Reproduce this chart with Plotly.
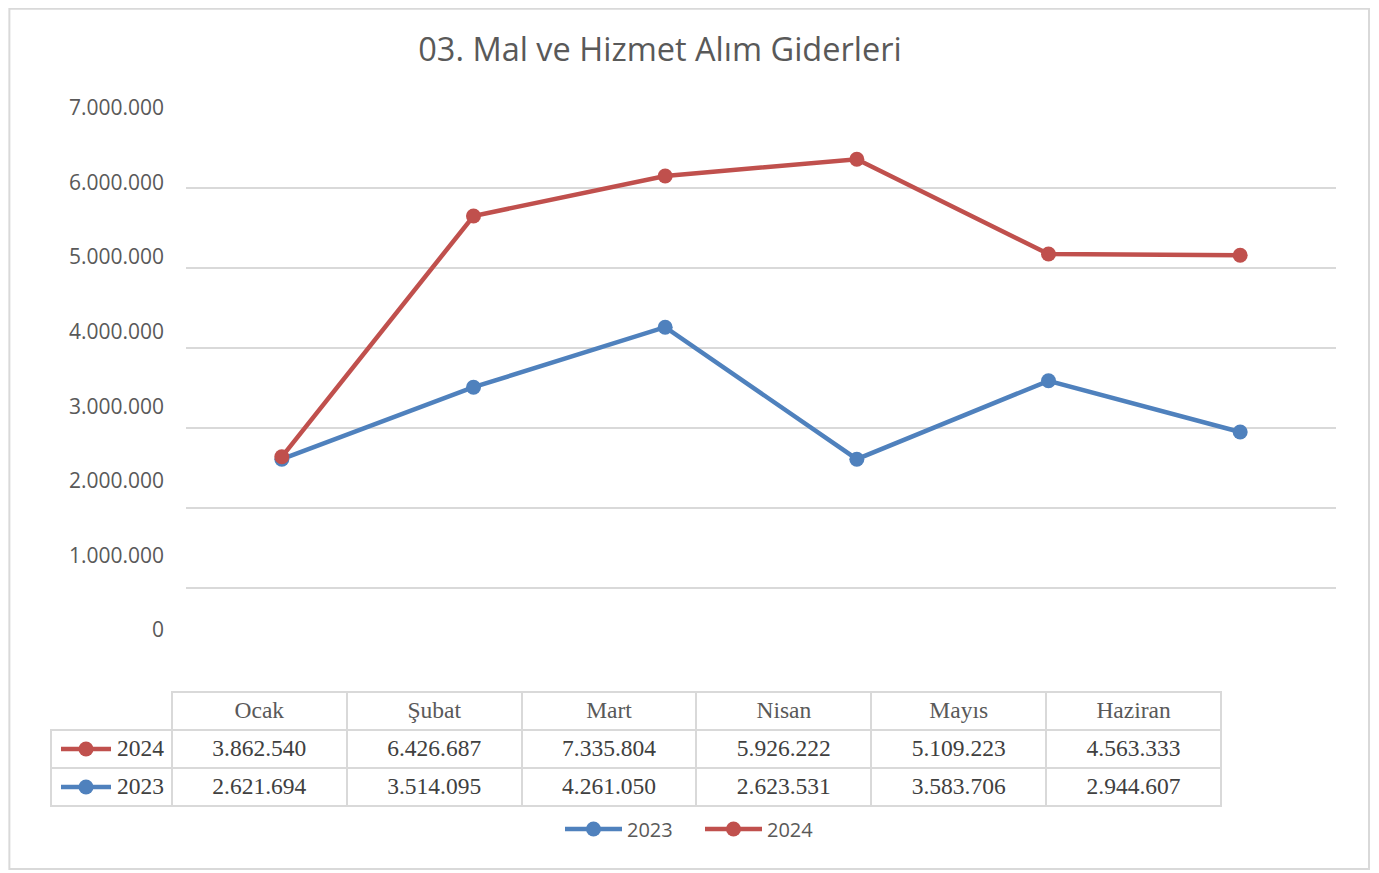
import plotly.graph_objects as go

W, H = 1379, 873
OFF = 8  # page body margin in the browser

months = ["Ocak", "Şubat", "Mart", "Nisan", "Mayıs", "Haziran"]
years = ["2023", "2024"]

# values as drawn on the chart
plot_2023 = [2610000, 3510000, 4260000, 2610000, 3590000, 2950000]
plot_2024 = [2640000, 5650000, 6150000, 6360000, 5175000, 5160000]

# values printed in the data table
table_2024 = ["3.862.540", "6.426.687", "7.335.804", "5.926.222", "5.109.223", "4.563.333"]
table_2023 = ["2.621.694", "3.514.095", "4.261.050", "2.623.531", "3.583.706", "2.944.607"]

grid_vals = [1000000, 2000000, 3000000, 4000000, 5000000, 6000000, 7000000]
label_vals = [0, 1000000, 2000000, 3000000, 4000000, 5000000, 6000000, 7000000]

BLUE = "#4F81BD"
RED = "#C0504D"
GRID = "#d9d9d9"
CLEAR = "rgba(0,0,0,0)"


def px(v):
    return (v - OFF) / W


def py(v):
    return 1 - (v - OFF) / H


fig = go.Figure()

# data table (drawn first, transparent fill so the row keys show through)
cols = [["2024", "2023"]] + [[a, b] for a, b in zip(table_2024, table_2023)]
fig.add_trace(go.Table(
    domain=dict(x=[px(51), px(1221)], y=[py(810), py(692)]),
    columnwidth=[121] + [175] * 6,
    header=dict(
        values=[""] + months,
        height=38,
        align="center",
        fill=dict(color=CLEAR),
        line=dict(color=[CLEAR] + [GRID] * 6, width=2),
        font=dict(family="Liberation Serif", size=23.5, color="#595959"),
    ),
    cells=dict(
        values=cols,
        height=38,
        align=["right"] + ["center"] * 6,
        fill=dict(color=CLEAR),
        line=dict(color=GRID, width=2),
        font=dict(family="Liberation Serif", size=23.5, color="#404040"),
    ),
))

fig.add_trace(go.Scatter(
    x=months, y=plot_2023, name="2023", mode="lines+markers",
    line=dict(color=BLUE, width=4.5), marker=dict(size=15, color=BLUE),
    hoverinfo="skip",
))
fig.add_trace(go.Scatter(
    x=months, y=plot_2024, name="2024", mode="lines+markers",
    line=dict(color=RED, width=4.5), marker=dict(size=15, color=RED),
    hoverinfo="skip",
))

# invisible trace so the label axis is drawn
fig.add_trace(go.Scatter(
    x=[months[0]], y=[0], yaxis="y2", mode="markers",
    marker=dict(opacity=0), showlegend=False, hoverinfo="skip",
))

# legend keys inside the table row headers
key_rows = {"2024": (1.5, RED), "2023": (0.5, BLUE)}
for yr, (row, col) in key_rows.items():
    fig.add_trace(go.Scatter(
        x=[0, 1], y=[row, row], xaxis="x3", yaxis="y3", mode="lines",
        line=dict(color=col, width=4.5), showlegend=False, hoverinfo="skip",
    ))
    fig.add_trace(go.Scatter(
        x=[0.5], y=[row], xaxis="x3", yaxis="y3", mode="markers",
        marker=dict(size=15, color=col, opacity=1),
        showlegend=False, hoverinfo="skip",
    ))

fig.update_layout(
    width=W, height=H,
    margin=dict(l=0, r=0, t=0, b=0, autoexpand=False),
    paper_bgcolor="white", plot_bgcolor=CLEAR,
    separators=",.",
    title=dict(
        text="03. Mal ve Hizmet Alım Giderleri",
        x=px(660), xanchor="center", y=py(50), yanchor="middle",
        font=dict(family="Open Sans", size=32.5, color="#595959"),
    ),
    xaxis=dict(
        domain=[px(186), px(1336)], type="category", range=[-0.5, 5.5],
        showgrid=False, showticklabels=False, zeroline=False, showline=False,
    ),
    yaxis=dict(
        domain=[py(668), py(108)], range=[0, 7000000],
        tickvals=grid_vals, showticklabels=False,
        gridcolor=GRID, gridwidth=2, zeroline=False, showline=False,
    ),
    yaxis2=dict(
        domain=[py(630), py(108)], range=[0, 7000000], anchor="x",
        tickvals=label_vals, tickformat=",.0f", ticks="",
        ticklabelstandoff=21,
        showgrid=False, zeroline=False, showline=False,
        tickfont=dict(family="Open Sans", size=21, color="#595959"),
    ),
    xaxis3=dict(domain=[px(61), px(111)], range=[0, 1], anchor="y3",
                visible=False),
    yaxis3=dict(domain=[py(806), py(730)], range=[0, 2], anchor="x3",
                visible=False),
    legend=dict(
        orientation="h", x=px(560), xanchor="left", y=py(829), yanchor="middle",
        font=dict(family="Open Sans", size=20, color="#595959"),
        itemwidth=57, entrywidth=68,
    ),
    shapes=[dict(
        type="rect", xref="paper", yref="paper",
        x0=0.001, x1=px(1369), y0=py(869), y1=0.999,
        line=dict(color=GRID, width=2), layer="below",
    )],
)

fig.write_html("out.html")
